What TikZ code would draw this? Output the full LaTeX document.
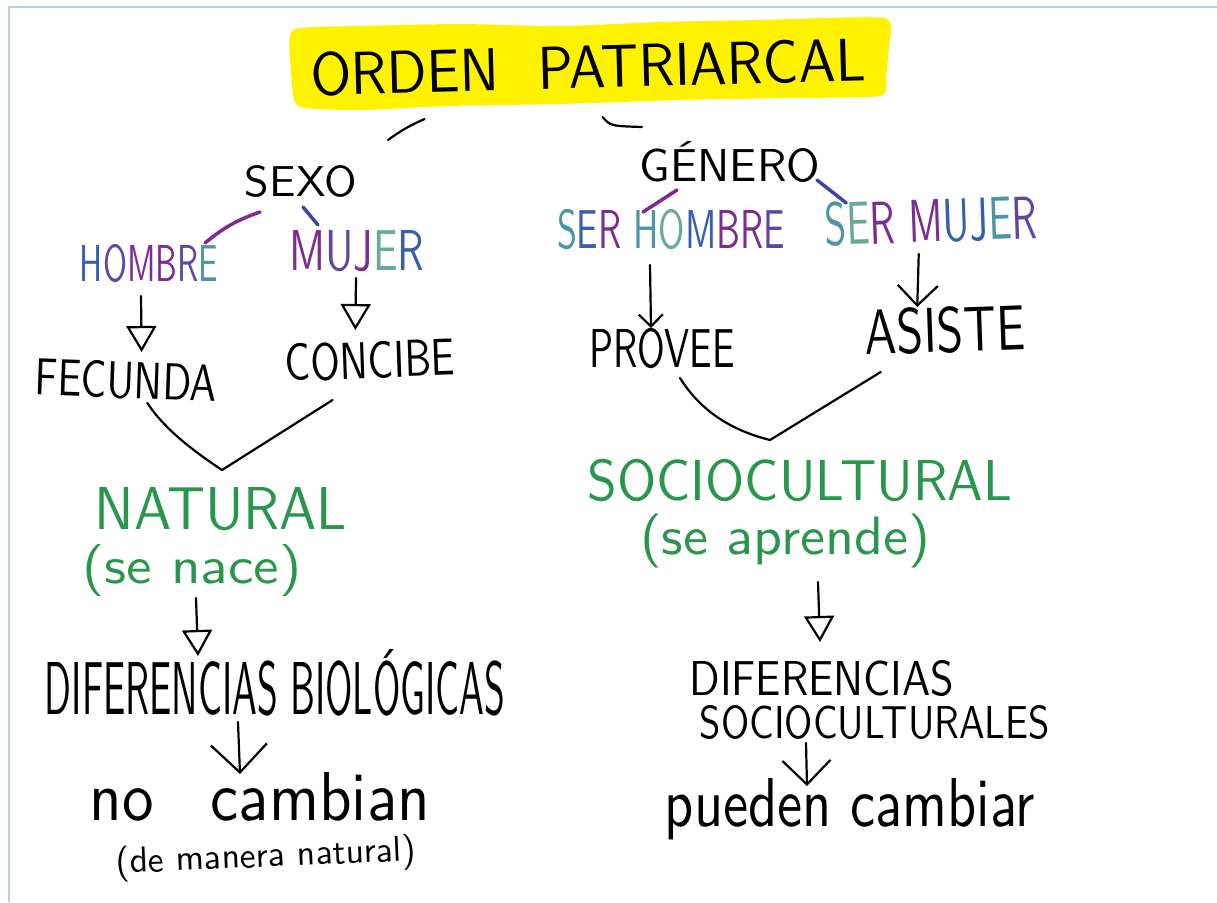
\documentclass[tikz,border=0pt]{standalone}
\usepackage{fontspec}
\usepackage{graphicx}
\usetikzlibrary{arrows.meta}
\definecolor{hlyellow}{RGB}{255,242,0}
\definecolor{framecol}{RGB}{185,205,225}
\definecolor{hgreen}{RGB}{40,150,75}
\definecolor{cA}{RGB}{55,95,175}
\definecolor{cB}{RGB}{125,45,145}
\definecolor{cC}{RGB}{75,150,165}
\definecolor{cD}{RGB}{95,70,160}
\definecolor{cE}{RGB}{105,170,150}
\definecolor{cP}{RGB}{130,40,150}
\definecolor{cBl}{RGB}{60,70,160}
% width, cap height, text
\newcommand\hwcap[3]{\resizebox{#1pt}{#2pt}{\sffamily\raisebox{0pt}[\fontcharht\font`A][0pt]{#3}}}
% width, total height, text
\newcommand\hwtot[3]{\resizebox*{#1pt}{#2pt}{\sffamily #3}}
\newcommand\cl[2]{\textcolor{#1}{#2}}
\tikzset{
  txt/.style={inner sep=0pt, outer sep=0pt, anchor=center},
  conn/.style={line width=2.2pt, black, line cap=round, line join=round},
  openarr/.style={conn, -{Triangle[open,length=26pt,width=30pt]}},
  barbarr/.style={conn, -{Straight Barb[length=#1]}},
  colstroke/.style={line width=3.5pt, line cap=round, #1},
}
\begin{document}
\begin{tikzpicture}[x=1pt,y=-1pt]
\useasboundingbox (0,0) rectangle (1217,902);
\fill[white] (0,0) rectangle (1217,902);
\draw[framecol, line width=1.2pt] (9,902) -- (9,7) -- (1217,7);

% yellow highlight
\fill[hlyellow] plot[smooth cycle, tension=0.35] coordinates {
 (293,30) (360,26) (460,24) (560,26) (660,22) (760,20) (884,18)
 (889,45) (886,75) (880,96) (780,98) (680,100) (560,104) (450,106)
 (360,110) (298,106) (291,70)};

% texts
\node[txt, rotate=1.5] (title) at (588,67) {\hwcap{555}{42}{ORDEN\hspace{0.7em}PATRIARCAL}};
\node[txt] (sexo) at (301,181) {\hwcap{112}{30}{SEXO}};
\node[txt] (genero) at (730,165) {\hwcap{180}{32}{GÉNERO}};
\node[txt] (hombre) at (149,263) {\hwcap{138}{36}{\cl{cA}{H}\cl{cD}{O}\cl{cB}{M}\cl{cB}{B}\cl{cD}{R}\cl{cC}{E}}};
\node[txt] (mujer) at (357,250) {\hwcap{135}{40}{\cl{cB}{M}\cl{cD}{U}\cl{cB}{J}\cl{cE}{E}\cl{cA}{R}}};
\node[txt] (serhombre) at (671,229) {\hwcap{228}{38}{\cl{cC}{S}\cl{cA}{E}\cl{cB}{R} \cl{cC}{H}\cl{cE}{O}\cl{cA}{M}\cl{cB}{B}\cl{cB}{R}\cl{cD}{E}}};
\node[txt, rotate=2] (sermujer) at (931,221) {\hwcap{212}{42}{\cl{cC}{S}\cl{cE}{E}\cl{cB}{R} \cl{cB}{M}\cl{cA}{U}\cl{cA}{J}\cl{cC}{E}\cl{cD}{R}}};
\node[txt, rotate=-2] (fecunda) at (126,380) {\hwcap{182}{36}{FECUNDA}};
\node[txt, rotate=2] (concibe) at (370,360) {\hwcap{170}{36}{CONCIBE}};
\node[txt] (provee) at (662,348) {\hwcap{145}{38}{PROVEE}};
\node[txt, rotate=2] (asiste) at (945,330) {\hwcap{160}{44}{ASISTE}};
\node[txt] (natural) at (221,508) {\hwcap{252}{42}{\color{hgreen}NATURAL}};
\node[txt] (senace) at (192,570) {\hwtot{219}{52}{\color{hgreen}(se nace)}};
\node[txt] (sociocultural) at (800,480) {\hwcap{424}{40}{\color{hgreen}SOCIOCULTURAL}};
\node[txt] (seaprende) at (785,541) {\hwtot{290}{54}{\color{hgreen}(se aprende)}};
\node[txt] (difbio) at (275,688) {\hwcap{460}{52}{DIFERENCIAS BIOLÓGICAS}};
\node[txt] (nocambian) at (260,796) {\hwcap{340}{48}{no\hspace{0.9em}cambian}};
\node[txt, rotate=2.5] (manera) at (266,858) {\hwtot{300}{36}{(de manera natural)}};
\node[txt] (difsoc) at (822,678) {\hwcap{265}{34}{DIFERENCIAS}};
\node[txt] (socio) at (875,722) {\hwcap{350}{32}{SOCIOCULTURALES}};
\node[txt] (pueden) at (850,802) {\hwcap{370}{48}{pueden cambiar}};

% strokes from title
\draw[conn] ([xshift=-164pt,yshift=-31pt]title.south) to[bend right=6] ([xshift=87pt,yshift=26pt]sexo.north);
\draw[conn] ([xshift=14pt,yshift=-29pt]title.south) .. controls +(8pt,-9pt) .. ([xshift=-88pt,yshift=22pt]genero.north);

% coloured strokes
\draw[colstroke=cP] ([xshift=-41pt,yshift=-16pt]sexo.south) to[bend right=10] ([xshift=56pt,yshift=2pt]hombre.north);
\draw[colstroke=cBl] ([xshift=2pt,yshift=-11pt]sexo.south) -- ([xshift=-39pt,yshift=5pt]mujer.north);
\draw[colstroke=cP] ([xshift=-53pt,yshift=-9pt]genero.south) -- ([xshift=-28pt,yshift=-2pt]serhombre.north);
\draw[colstroke=cBl] ([xshift=87pt,yshift=1pt]genero.south) -- ([xshift=-84pt,yshift=-3pt]sermujer.north);

% arrows
\draw[openarr] ([xshift=-8pt,yshift=-15pt]hombre.south) -- ([xshift=15pt,yshift=10pt]fecunda.north);
\draw[openarr] ([xshift=-1pt,yshift=-8pt]mujer.south) -- ([xshift=-14pt,yshift=12pt]concibe.north);
\draw[barbarr=12pt] ([xshift=-21pt,yshift=-17pt]serhombre.south) -- ([xshift=-11pt,yshift=1pt]provee.north);
\draw[barbarr=20pt] ([xshift=-13pt,yshift=-12pt]sermujer.south) -- ([xshift=-27pt,yshift=1pt]asiste.north);

% V connectors
\coordinate (vnat) at (222,470);
\draw[conn] ([xshift=22pt,yshift=-5pt]fecunda.south) .. controls (165,430) and (195,452) .. (vnat) -- ([xshift=-38pt,yshift=-22pt]concibe.south);
\coordinate (vsoc) at (770,440);
\draw[conn] ([xshift=18pt,yshift=-11pt]provee.south) .. controls (700,410) and (730,430) .. (vsoc) -- ([xshift=-65pt,yshift=-20pt]asiste.south);

\draw[openarr] ([xshift=4pt,yshift=-2pt]senace.south) -- ([xshift=-77pt,yshift=6pt]difbio.north);
\draw[openarr] ([xshift=33pt,yshift=-14pt]seaprende.south) -- ([xshift=-2pt,yshift=19pt]difsoc.north);
\draw[barbarr=28pt] ([xshift=-37pt,yshift=-8pt]difbio.south) -- ([xshift=-20pt,yshift=-2pt]nocambian.north);
\draw[barbarr=24pt] ([xshift=-69pt,yshift=-5pt]socio.south) -- ([xshift=-43pt,yshift=-8pt]pueden.north);
\end{tikzpicture}
\end{document}
